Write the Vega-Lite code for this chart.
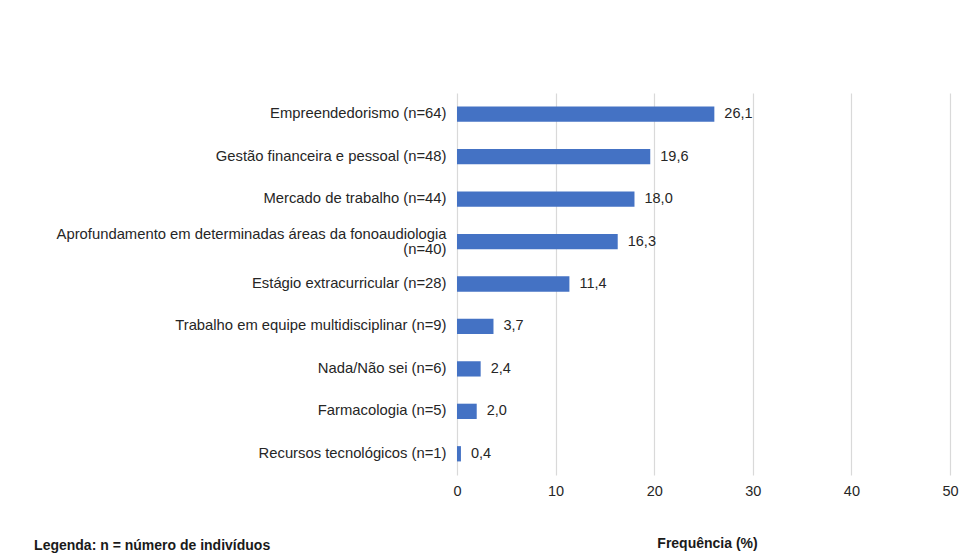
{
  "$schema": "https://vega.github.io/schema/vega-lite/v6.json",
  "autosize": {"type": "none"},
  "width": 493,
  "height": 382,
  "padding": {"left": 457, "top": 93, "right": 27, "bottom": 85},
  "background": "white",
  "config": {
    "locale": {"number": {"decimal": ",", "thousands": ".", "grouping": [3], "currency": ["", ""]}},
    "font": "Liberation Sans",
    "view": {"stroke": null}
  },
  "title": {
    "text": "Legenda: n = número de indivíduos",
    "orient": "bottom",
    "anchor": "start",
    "frame": "bounds",
    "dx": -22,
    "offset": -12,
    "fontSize": 14,
    "fontWeight": "bold",
    "color": "#1a1a1a",
    "font": "Liberation Sans"
  },
  "data": {
    "values": [
      {"categoria": "Empreendedorismo (n=64)", "freq": 26.1},
      {"categoria": "Gestão financeira e pessoal (n=48)", "freq": 19.6},
      {"categoria": "Mercado de trabalho (n=44)", "freq": 18.0},
      {"categoria": "Aprofundamento em determinadas áreas da fonoaudiologia|(n=40)", "freq": 16.3},
      {"categoria": "Estágio extracurricular (n=28)", "freq": 11.4},
      {"categoria": "Trabalho em equipe multidisciplinar (n=9)", "freq": 3.7},
      {"categoria": "Nada/Não sei (n=6)", "freq": 2.4},
      {"categoria": "Farmacologia (n=5)", "freq": 2.0},
      {"categoria": "Recursos tecnológicos (n=1)", "freq": 0.4}
    ]
  },
  "encoding": {
    "y": {
      "field": "categoria",
      "type": "nominal",
      "sort": null,
      "scale": {"paddingInner": 0.64, "paddingOuter": 0.32},
      "axis": {
        "title": null,
        "domain": false,
        "ticks": false,
        "labelPadding": 11,
        "labelLimit": 600,
        "labelFontSize": 14.8,
        "labelColor": "#262626",
        "labelLineHeight": 15,
        "labelExpr": "split(datum.label, '|')",
        "labelOffset": {"condition": {"test": "indexof(datum.value, '|') >= 0", "value": -7}, "value": 0}
      }
    },
    "x": {
      "field": "freq",
      "type": "quantitative",
      "scale": {"domain": [0, 50]},
      "axis": {
        "title": "Frequência (%)",
        "titleFontSize": 14,
        "titleFontWeight": "bold",
        "titleColor": "#1a1a1a",
        "titlePadding": 39,
        "titleX": 250,
        "values": [0, 10, 20, 30, 40, 50],
        "format": "d",
        "domain": false,
        "ticks": false,
        "labelFlush": false,
        "labelPadding": 9,
        "labelFontSize": 14.5,
        "labelColor": "#262626",
        "gridColor": "#d9d9d9",
        "gridWidth": 1.2
      }
    }
  },
  "layer": [
    {"mark": {"type": "bar", "color": "#4472C4"}},
    {
      "mark": {"type": "text", "align": "left", "dx": 10, "fontSize": 14.5, "color": "#262626", "font": "Liberation Sans"},
      "encoding": {"text": {"field": "freq", "type": "quantitative", "format": ".1f"}}
    }
  ]
}
